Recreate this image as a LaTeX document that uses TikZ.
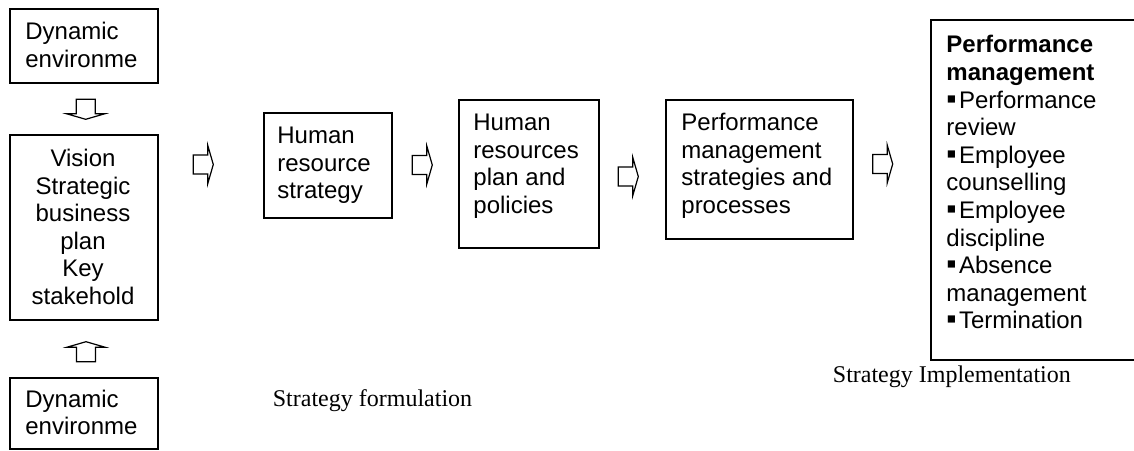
\documentclass[tikz,border=0pt]{standalone}
\usepackage{fontspec}
\setmainfont{Liberation Sans}
\newfontfamily\capfont{Liberation Serif}
\usepackage{tikz}
\newcommand{\sqbul}{\makebox[6.3pt][l]{\fontsize{14.5}{13.8}\selectfont ▪}}

\begin{document}
\begin{tikzpicture}[x=0.5pt,y=-0.5pt,
    box/.style={draw,line width=1pt,inner sep=0,anchor=north west},
    txt/.style={inner sep=0,anchor=north west,align=left,font=\fontsize{12}{13.8}\selectfont},
    captxt/.style={inner sep=0,anchor=base west,font=\capfont\fontsize{12}{14}\selectfont},
    arrline/.style={line width=0.6pt,line join=miter},
    blockarr/.pic={\draw[arrline] (0,-9.5) -- (14.5,-9.5) -- (14.5,-19) -- (20,0) -- (14.5,19) -- (14.5,9.5) -- (0,9.5) -- cycle;}]
    \useasboundingbox (0,0) rectangle (1134,450);
    % boxes
    \node[box,minimum width=73.7pt,minimum height=36.7pt] (envtop) at (9.3,8.3) {};
    \node[box,minimum width=73.7pt,minimum height=92.5pt] (vision) at (9.3,134) {};
    \node[box,minimum width=73.7pt,minimum height=35.7pt] (envbot) at (9.3,376.7) {};
    \node[box,minimum width=64pt,minimum height=52.5pt] (hrs) at (263,112) {};
    \node[box,minimum width=70pt,minimum height=74pt] (hrp) at (458,99) {};
    \node[box,minimum width=93.5pt,minimum height=69.5pt] (pms) at (665,99) {};
    \node[box,minimum width=105pt,minimum height=170.3pt] (pm) at (930,18.5) {};
    % texts
    \node[txt] (envtoptxt) at (25,20) {\strut Dynamic\\environme};
    \node[txt,align=center,anchor=north] (visiontxt) at (83,146.7) {\strut Vision\\Strategic\\business\\plan\\Key\\stakehold};
    \node[txt] (envbottxt) at (25,387.4) {\strut Dynamic\\environme};
    \node[txt] (hrstxt) at (277,124) {\strut Human\\resource\\strategy};
    \node[txt] (hrptxt) at (473,111) {\strut Human\\resources\\plan and\\policies};
    \node[txt] (pmstxt) at (681,111) {\strut Performance\\management\\strategies and\\processes};
    \node[txt] (pmtxt) at (946,33.1) {\strut\textbf{Performance}\\\textbf{management}\\\sqbul Performance\\review\\\sqbul Employee\\counselling\\\sqbul Employee\\discipline\\\sqbul Absence\\management\\\sqbul Termination};
    \node[captxt] (formcap) at (272.5,406.7) {Strategy formulation};
    \node[captxt] (implcap) at (832.5,382.3) {Strategy Implementation};
    % arrows
    \pic[rotate=-90] at (85.7,99.3) {blockarr};
    \pic[rotate=90] at (86,361.7) {blockarr};
    \pic at (193.3,164.5) {blockarr};
    \pic at (412.3,165) {blockarr};
    \pic at (618.3,176.5) {blockarr};
    \pic at (872.7,164) {blockarr};
\end{tikzpicture}
\end{document}
